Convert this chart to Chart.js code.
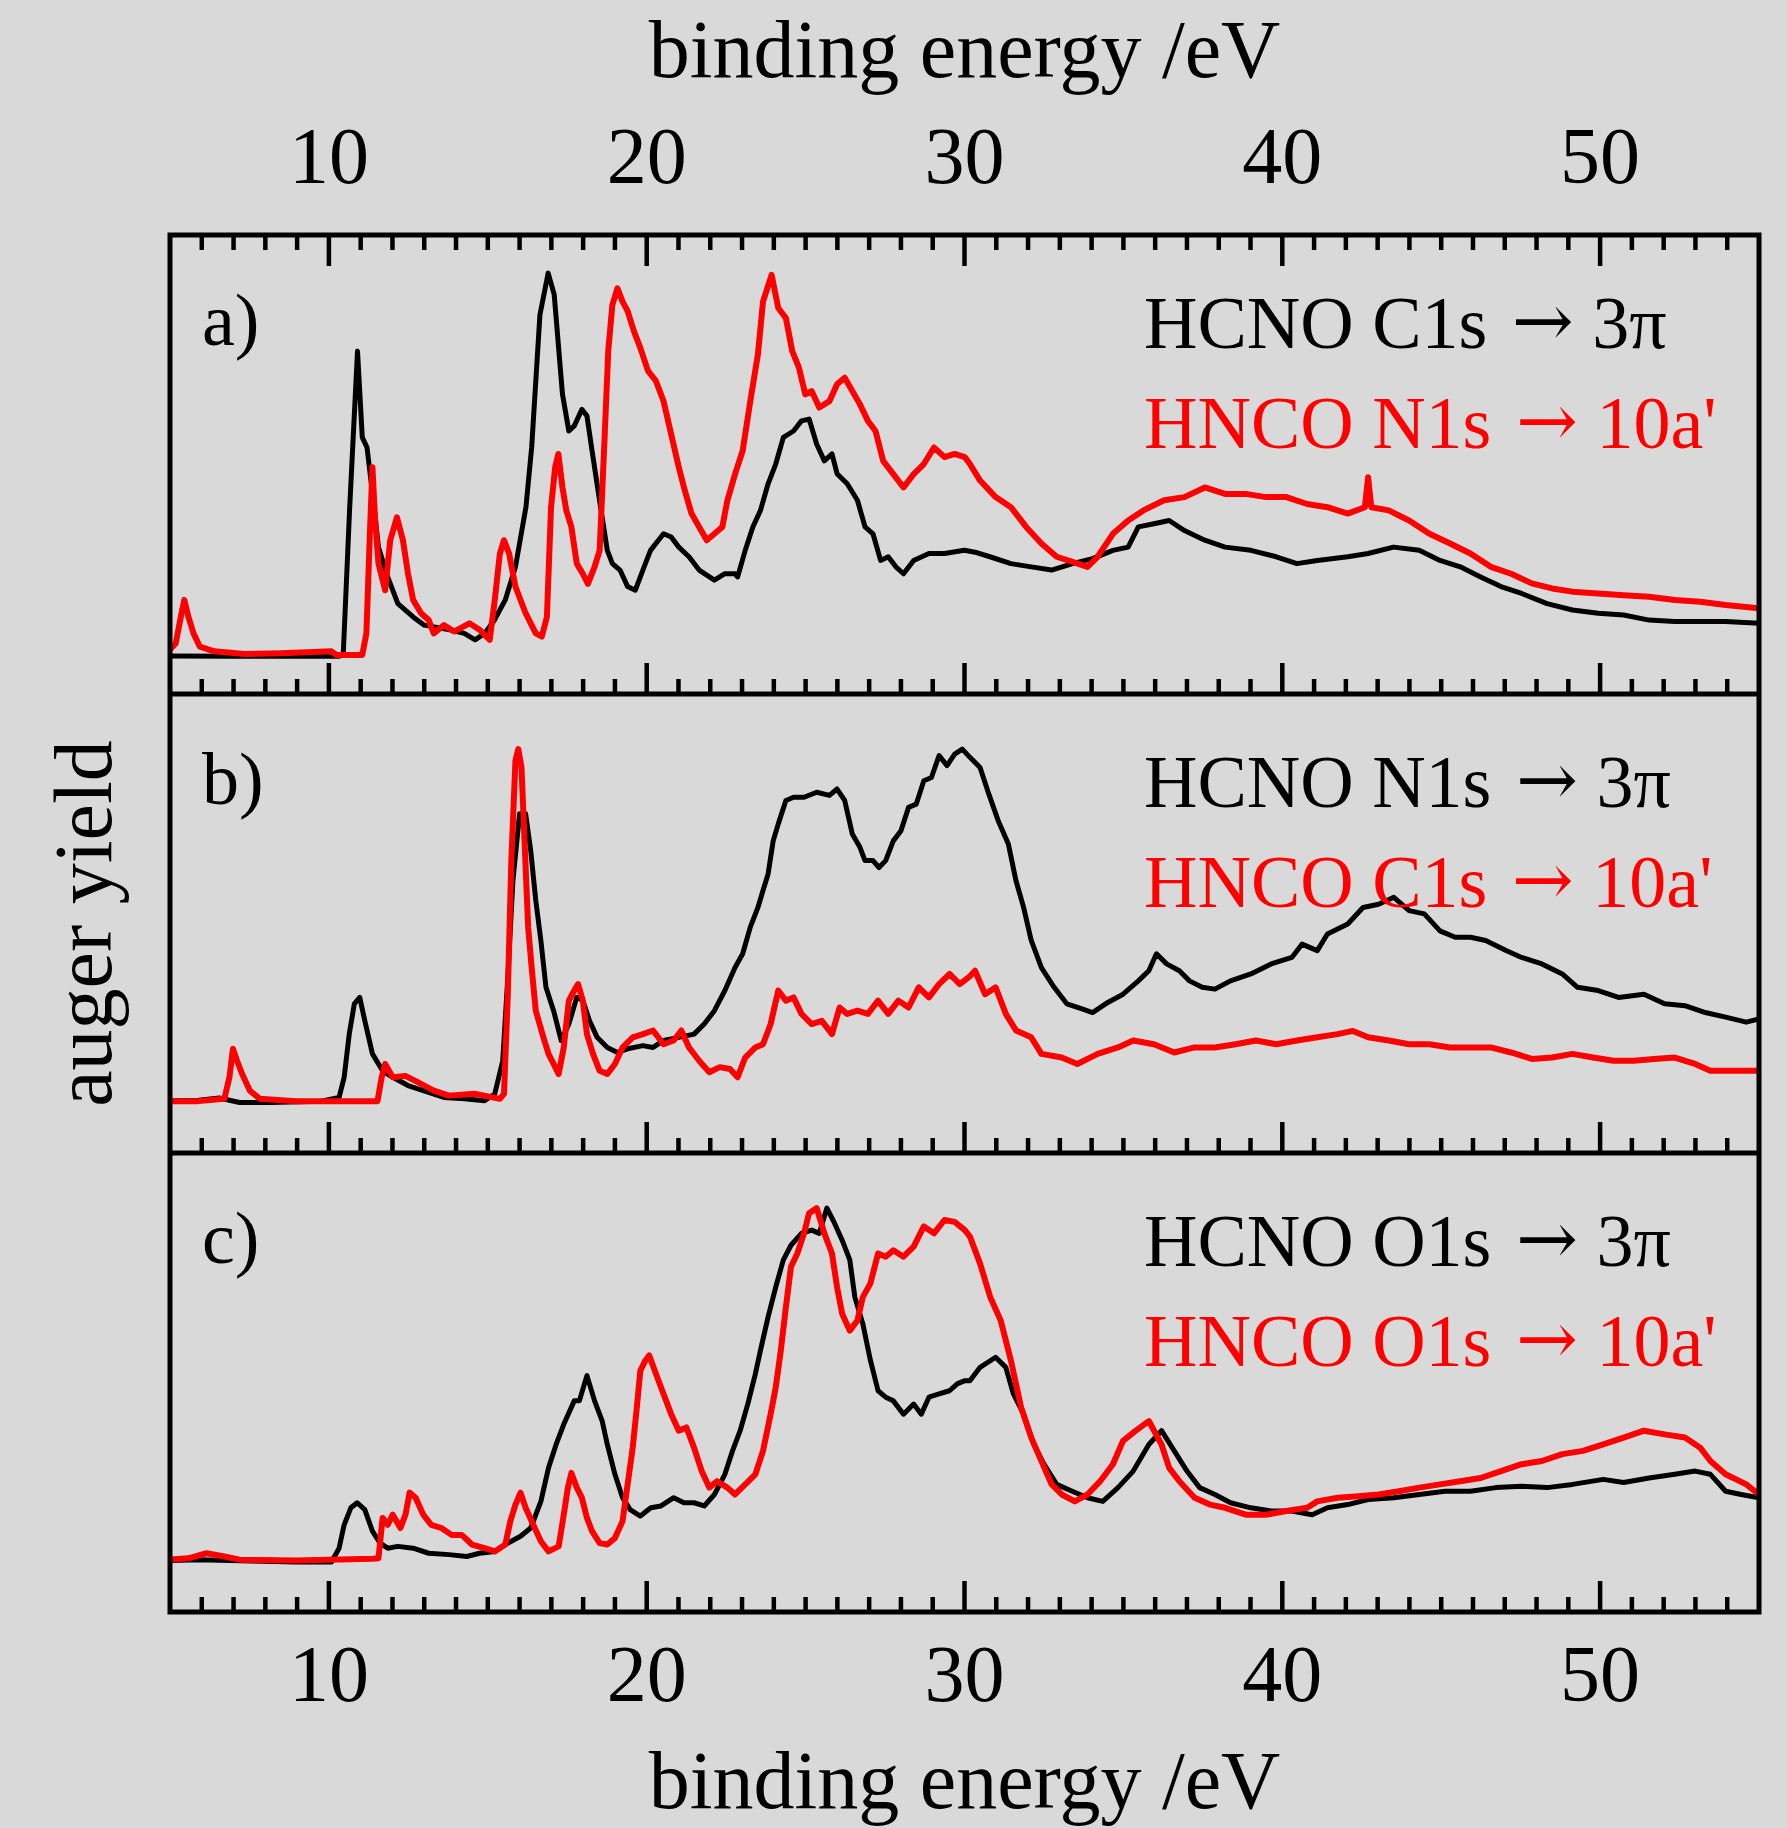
<!DOCTYPE html>
<html>
<head>
<meta charset="utf-8">
<script src="https://cdn.jsdelivr.net/npm/chart.js@4.4.1/dist/chart.umd.min.js"></script>
<style>
    html, body { margin: 0; padding: 0; background: #d9d9d9; }
    canvas { display: block; }
</style>
</head>
<body>
<canvas id="grafico" width="1787" height="1828"></canvas>
<script>
// binding energy (eV) / auger yield (arbitrary units, 0-100 inside each panel)
const xTickLabels = [10, 20, 30, 40, 50];
const panelLabels = ['a)', 'b)', 'c)'];
const blackLabels = ['HCNO C1s \u2192 3\u03c0', 'HCNO N1s \u2192 3\u03c0', 'HCNO O1s \u2192 3\u03c0'];
const redLabels = ['HNCO N1s \u2192 10a\'', 'HNCO C1s \u2192 10a\'', 'HNCO O1s \u2192 10a\''];

const aBlack = [[4.94,8.3],[7,8.2],[10.3,8.2],[10.45,8.5],[10.65,40],[10.9,74.7],[11.05,55.9],[11.2,53.7],[11.4,42],[11.56,32],[11.85,25.5],[12.17,19.7],[12.65,16.8],[13,15],[13.8,14],[14.26,13.2],[14.6,11.8],[14.9,13.2],[15.2,16],[15.55,20.5],[15.87,27.7],[16.2,40.7],[16.38,53.7],[16.64,82.6],[16.9,91.7],[17.09,87],[17.35,65.3],[17.55,57.3],[17.72,58.4],[17.96,62],[18.12,60.6],[18.28,53],[18.52,42],[18.76,31.3],[18.92,28.4],[19.16,27],[19.4,23.4],[19.64,22.6],[19.88,27],[20.12,31.3],[20.53,34.9],[20.77,34.2],[21.01,32],[21.33,29.9],[21.65,27],[22.13,24.8],[22.46,26.2],[22.78,26.2],[22.86,25.5],[23.1,31.3],[23.34,36.4],[23.58,40],[23.82,45.8],[24.06,50.1],[24.3,55.9],[24.62,57.3],[24.87,59.5],[25.11,59.9],[25.35,54.4],[25.59,50.8],[25.83,52.3],[25.99,48],[26.31,45.8],[26.63,42.2],[26.87,36.4],[27.12,34.9],[27.36,29.1],[27.6,29.9],[27.84,27.7],[28.08,26.2],[28.4,29.1],[28.88,30.6],[29.37,30.6],[30,31.3],[30.33,30.9],[30.8,29.9],[31.46,28.4],[32.1,27.7],[32.74,27],[33.4,28.4],[34.03,29.5],[34.67,31.3],[35.15,32],[35.47,36.4],[35.96,37.1],[36.44,37.8],[36.92,35.6],[37.56,33.5],[38.2,32],[39.01,31.3],[39.81,29.9],[40.46,28.4],[41.1,29.1],[42.06,29.9],[42.7,30.6],[43.5,32],[44.31,31.3],[44.96,29.1],[45.6,27.7],[46.24,25.5],[46.88,23.4],[47.53,21.9],[48.33,19.7],[49.13,18.3],[49.94,17.6],[50.74,17.2],[51.54,16.1],[52.35,15.8],[53.15,15.8],[53.95,15.8],[55,15.4]];

const aRed = [[4.94,9.3],[5.18,11],[5.34,16.8],[5.45,20.5],[5.58,16.8],[5.74,13.2],[5.94,10.3],[6.39,9.3],[7.35,8.7],[8.5,8.9],[10.08,9.3],[10.24,8.5],[11.05,8.5],[11.18,13.2],[11.29,35],[11.37,49.4],[11.45,38.5],[11.56,28.4],[11.77,22.6],[11.93,33.5],[12.14,38.5],[12.33,33.5],[12.49,26.2],[12.65,20.5],[12.9,17.6],[13.14,16.1],[13.3,13.2],[13.62,15],[13.94,13.6],[14.42,15.4],[14.74,14],[15.06,11.8],[15.22,20.5],[15.38,30.6],[15.51,33.5],[15.67,30.6],[15.87,23.4],[16.19,17.6],[16.51,13.2],[16.7,12.5],[16.86,16.8],[16.99,40.7],[17.12,49.4],[17.22,52.3],[17.35,45],[17.47,40],[17.63,36.4],[17.8,28.4],[17.99,26.2],[18.15,24],[18.36,27.7],[18.52,31.3],[18.68,56.6],[18.79,74.7],[18.92,84.8],[19.08,88.4],[19.24,85.5],[19.4,83.4],[19.6,79],[19.8,75.4],[20.04,70.4],[20.29,68.2],[20.53,63.8],[20.77,56.6],[21.01,49.4],[21.2,44.3],[21.41,39.3],[21.65,36.4],[21.89,33.5],[22.13,34.9],[22.38,36.4],[22.54,42.2],[22.78,47.9],[23.02,53],[23.26,63.8],[23.5,74],[23.66,85.5],[23.93,91.3],[24.14,84.1],[24.38,81.9],[24.58,74.7],[24.79,71.1],[24.99,65.3],[25.19,66],[25.43,62.4],[25.75,63.8],[25.99,67.5],[26.23,68.9],[26.47,66],[26.71,63.1],[26.96,59.5],[27.2,57.3],[27.44,50.8],[27.76,47.9],[28.08,45],[28.4,47.9],[28.72,50.1],[29.04,53.7],[29.37,51.6],[29.69,52.3],[30.01,51.6],[30.17,50.1],[30.49,46.5],[30.98,42.9],[31.46,40.7],[31.94,36.4],[32.42,32.8],[32.9,29.9],[33.4,28.8],[33.87,27.7],[34.19,29.9],[34.67,34.9],[35.15,37.8],[35.63,40],[36.28,42.2],[36.92,42.9],[37.56,45],[38.2,43.6],[38.85,43.6],[39.49,42.9],[40.13,42.9],[40.78,41.4],[41.42,40.7],[42.06,39.3],[42.6,40.7],[42.7,47.2],[42.8,40.7],[43.35,40],[43.99,37.8],[44.63,34.9],[45.28,32.8],[45.92,30.6],[46.56,27.7],[47.2,26.2],[47.85,24.1],[48.49,23],[49.13,22.3],[49.94,21.9],[50.74,21.5],[51.54,21.2],[52.35,20.5],[53.15,20.1],[53.95,19.4],[55,18.7]];

const bBlack = [[4.94,11.3],[5.9,11.5],[6.55,12],[6.87,11.5],[7.19,11],[8.15,11],[9.76,11.3],[10.32,12.1],[10.48,16.5],[10.64,25.9],[10.8,32.5],[10.97,33.9],[11.13,28.8],[11.37,21.6],[11.69,17.9],[12.01,16.5],[12.49,14.7],[12.97,13.6],[13.62,12.1],[14.26,11.8],[14.9,11.4],[15.22,12.9],[15.47,20.1],[15.63,38.3],[15.79,59.3],[16,73.9],[16.19,73.9],[16.35,65.9],[16.51,55],[16.67,46.3],[16.83,36.1],[17.07,31],[17.31,24.5],[17.55,28.1],[17.8,33.9],[17.99,33.2],[18.2,28.8],[18.44,25.2],[18.76,23],[19.08,21.9],[19.4,22.7],[19.88,23.4],[20.2,23],[20.53,24.5],[21.01,25.2],[21.49,25.9],[21.81,28.1],[22.13,31],[22.46,35.4],[22.78,40.4],[23.02,43.4],[23.26,49.2],[23.5,53.5],[23.66,57.2],[23.82,60.8],[23.98,68],[24.14,71.7],[24.38,76.8],[24.62,77.5],[24.95,77.5],[25.35,78.6],[25.75,77.9],[25.99,79.3],[26.23,76.8],[26.47,69.5],[26.71,66.6],[26.87,63.7],[27.12,63.7],[27.31,62.2],[27.52,63.7],[27.76,68],[28,70.2],[28.24,75.3],[28.48,76],[28.72,81.1],[28.96,81.8],[29.2,86.6],[29.45,84.4],[29.69,86.9],[29.93,88],[30.17,86.2],[30.49,84],[30.73,78.9],[31.06,72.4],[31.38,67.3],[31.62,59.3],[31.86,53.5],[32.1,46.3],[32.42,40.4],[32.82,36.1],[33.22,32.5],[33.7,31.4],[34.03,30.6],[34.51,32.8],[34.99,34.6],[35.47,37.5],[35.8,39.7],[36.04,43.4],[36.36,41.2],[36.76,39.7],[37.08,37.5],[37.48,36.1],[37.88,35.7],[38.37,37.5],[39.01,39],[39.65,41.2],[40.3,42.6],[40.62,45.5],[41.1,44.1],[41.42,47.7],[42.06,49.9],[42.54,53.5],[43.03,54.2],[43.51,55.7],[43.99,52.8],[44.47,52.1],[44.96,48.4],[45.44,47],[45.92,47],[46.4,46.3],[47.04,44.1],[47.53,42.6],[48.17,41.2],[48.81,39],[49.29,36.1],[49.94,35.4],[50.58,33.9],[51.38,34.6],[52.03,32.5],[52.67,32.1],[53.31,30.6],[53.95,29.6],[54.6,28.5],[55,29.2]];

const bRed = [[4.94,11.3],[5.9,11.3],[6.71,11.8],[6.87,16.5],[6.98,22.7],[7.11,20.1],[7.27,17.2],[7.51,13.6],[7.83,11.8],[8.96,11.3],[11.53,11.3],[11.66,16.5],[11.77,19.4],[12.01,16.5],[12.41,16.8],[12.81,15.4],[13.3,13.6],[13.78,12.5],[14.58,12.9],[15.38,11.8],[15.51,12.9],[15.63,34.6],[15.74,63.7],[15.87,85.5],[15.96,88],[16.06,84],[16.16,67.3],[16.27,49.2],[16.38,40.4],[16.51,31],[16.75,25.2],[16.91,21.6],[17.07,19.4],[17.23,17.2],[17.39,23],[17.55,33.2],[17.72,35.4],[17.84,36.8],[17.99,33.2],[18.12,25.9],[18.31,21.6],[18.52,17.9],[18.76,17.2],[19,19.4],[19.24,23],[19.56,25.2],[19.88,25.9],[20.2,26.7],[20.53,23.7],[20.85,24.5],[21.09,26.7],[21.33,23],[21.65,20.1],[21.97,17.6],[22.3,18.7],[22.62,18.3],[22.86,16.5],[23.1,20.8],[23.42,23],[23.66,23.7],[23.9,28.1],[24.14,35.4],[24.38,33.2],[24.62,33.9],[24.87,30.3],[25.19,28.1],[25.51,28.8],[25.83,25.9],[26.07,31.7],[26.31,30.3],[26.63,31],[26.96,30.3],[27.28,33.2],[27.6,30.3],[27.92,33.2],[28.24,31.7],[28.56,36.1],[28.88,33.9],[29.2,36.8],[29.53,39],[29.85,36.8],[30.14,38.3],[30.33,39.7],[30.65,34.6],[30.98,36.1],[31.3,30.3],[31.62,26.7],[32.1,25.2],[32.42,21.6],[33.06,20.8],[33.55,19.4],[34.19,21.6],[34.83,23],[35.31,24.5],[35.96,23.7],[36.6,21.9],[37.24,23],[37.88,23],[38.53,23.7],[39.17,24.5],[39.81,23.7],[40.46,24.5],[41.1,25.2],[41.74,25.9],[42.22,26.6],[42.7,25.2],[43.35,24.5],[43.99,23.7],[44.63,23.7],[45.28,23],[45.92,23],[46.56,23],[47.2,21.9],[47.85,20.5],[48.49,20.8],[49.13,21.6],[49.78,20.8],[50.42,20.1],[51.06,20.1],[51.7,20.5],[52.35,20.8],[52.99,19.4],[53.47,17.9],[53.95,17.9],[54.6,17.9],[55,17.9]];

const cBlack = [[4.94,11.2],[5.9,11.4],[6.87,11.2],[8.96,10.9],[10.08,10.9],[10.32,13.9],[10.48,19],[10.69,22.7],[10.89,23.8],[11.13,22.3],[11.37,17.6],[11.61,15],[11.85,13.9],[12.17,14.3],[12.65,13.9],[13.14,12.8],[13.78,12.5],[14.34,12.1],[14.74,12.8],[15.22,13.2],[15.55,14.7],[16.03,16.5],[16.35,18.3],[16.67,24.1],[16.91,31.4],[17.15,36.5],[17.39,40.9],[17.72,46],[17.88,46],[18.12,51.5],[18.36,46],[18.6,41.6],[18.76,36.5],[19,30],[19.24,24.9],[19.48,22.3],[19.8,20.9],[20.13,22.7],[20.45,23.1],[20.85,24.9],[21.17,23.8],[21.49,23.8],[21.81,23.1],[22.13,25.6],[22.46,30],[22.7,35.1],[22.94,39.5],[23.18,45.3],[23.42,51.9],[23.58,57],[23.82,64.3],[24.06,70.8],[24.3,76.7],[24.54,79.9],[24.87,82.5],[25.19,83.2],[25.43,82.5],[25.67,88],[25.91,84.7],[26.15,81],[26.39,76.7],[26.55,68.6],[26.8,62.8],[27.04,54.8],[27.28,48.2],[27.52,46.8],[27.76,46],[28.08,43.1],[28.4,45.3],[28.64,43.1],[28.88,46.8],[29.2,47.5],[29.53,48.2],[29.77,49.7],[30.01,50.4],[30.17,50.4],[30.49,53.3],[30.98,55.5],[31.3,53.3],[31.54,47.5],[31.86,43.1],[32.18,36.5],[32.5,32.2],[32.9,27.8],[33.39,26.3],[33.87,24.9],[34.35,24.1],[34.83,27.1],[35.31,30.7],[35.8,36.5],[36.2,39.5],[36.6,35.1],[37,30.7],[37.4,27.1],[37.88,25.6],[38.37,23.8],[39.01,22.7],[39.65,22],[40.3,22],[40.94,21.2],[41.42,22.7],[42.06,23.4],[42.7,24.5],[43.51,24.9],[44.31,25.6],[45.12,26.3],[45.92,26.3],[46.72,27.1],[47.53,27.4],[48.33,27.1],[49.13,27.8],[50.1,28.9],[50.74,28.2],[51.54,29.2],[52.35,30],[52.99,30.7],[53.47,30],[53.95,26.3],[54.44,25.6],[55,24.9]];

const cRed = [[4.94,11.4],[5.58,11.7],[6.15,12.8],[6.71,12.1],[7.19,11.4],[8.96,11.2],[11.37,11.6],[11.56,11.7],[11.69,20.5],[11.85,19],[12.01,21.2],[12.25,18.3],[12.41,21.2],[12.54,26],[12.73,24.9],[12.97,21.2],[13.22,19],[13.54,18.3],[13.86,16.8],[14.18,16.8],[14.5,14.7],[14.9,13.9],[15.22,13.2],[15.55,14.7],[15.71,19.8],[15.87,23.4],[16.03,26],[16.19,22.7],[16.43,19],[16.67,15.4],[16.91,13.2],[17.23,14.3],[17.39,21.2],[17.52,27.1],[17.63,30.3],[17.8,27.1],[17.96,24.9],[18.12,20.5],[18.28,17.6],[18.52,15],[18.76,14.7],[19,16.1],[19.24,19.8],[19.4,27.8],[19.56,35.8],[19.69,44.6],[19.8,52.6],[19.96,54.8],[20.08,55.9],[20.29,51.9],[20.53,47.5],[20.77,43.1],[21.01,39.5],[21.25,40.2],[21.49,35.8],[21.73,30.7],[21.97,27.1],[22.21,28.5],[22.54,27.1],[22.78,25.6],[23.1,27.8],[23.42,30],[23.66,35.1],[23.9,43.1],[24.06,48.9],[24.22,57],[24.38,66.4],[24.54,75.2],[24.74,78.1],[24.95,82.5],[25.11,86.9],[25.35,88],[25.59,82.5],[25.83,78.1],[25.99,70.8],[26.15,65],[26.39,61.3],[26.63,63.5],[26.8,68.6],[27.04,71.6],[27.28,78.1],[27.52,77.4],[27.76,78.8],[28.08,77.4],[28.4,79.6],[28.72,84],[29.04,82.5],[29.37,85.4],[29.69,85],[30.01,83.2],[30.17,81.8],[30.49,75.9],[30.81,68.6],[31.14,63.5],[31.46,54.8],[31.78,44.6],[32.1,38],[32.42,32.9],[32.74,27.8],[33.06,25.6],[33.47,24.1],[33.87,25.6],[34.27,28.5],[34.67,32.2],[34.99,37.3],[35.39,39.5],[35.8,41.6],[36.2,36.5],[36.44,31.4],[36.76,28.5],[37.24,24.9],[37.72,23.4],[38.2,22.7],[38.85,21.2],[39.49,21.2],[40.13,22],[40.78,22.7],[41.1,24.1],[41.74,24.9],[42.38,25.2],[43.03,25.6],[43.67,26.3],[44.31,27.1],[44.96,27.8],[45.6,28.5],[46.24,29.2],[46.88,30.7],[47.53,32.2],[48.17,32.9],[48.81,34.4],[49.46,35.1],[50.1,36.5],[50.74,38],[51.38,39.5],[52.03,38.7],[52.67,38],[53.15,35.8],[53.47,32.9],[53.95,30],[54.6,27.8],[55,25.6]];

const panelBlack = [aBlack, bBlack, cBlack];
const panelRed = [aRed, bRed, cRed];

const serif = '"Liberation Serif", "Times New Roman", serif';

// each panel gets a 100 unit band of one shared y scale, top panel highest
function toPoints(lista, painel) {
    const deslocamento = (2 - painel) * 100;
    return lista.map((par) => ({ x: par[0], y: par[1] + deslocamento }));
}

// the arrow from Liberation Serif is tiny, so it is drawn with DejaVu Serif
function escreverLegenda(ctx, texto, x, y) {
    const partes = texto.split('\u2192');
    ctx.font = '74px ' + serif;
    ctx.fillText(partes[0], x, y);
    x += ctx.measureText(partes[0]).width + 6;
    ctx.font = '74px "DejaVu Serif"';
    ctx.fillText('\u2192', x, y - 2);
    x += ctx.measureText('\u2192').width;
    ctx.font = '74px ' + serif;
    ctx.fillText(partes[1], x, y);
}

const datasets = [];
for (let i = 0; i < 3; i++) {
    datasets.push({
        label: blackLabels[i],
        data: toPoints(panelBlack[i], i),
        borderColor: '#000000',
        borderWidth: 5,
        pointRadius: 0,
        tension: 0,
        borderJoinStyle: 'round',
        order: 2
    });
    datasets.push({
        label: redLabels[i],
        data: toPoints(panelRed[i], i),
        borderColor: '#ff0000',
        borderWidth: 6,
        pointRadius: 0,
        tension: 0,
        borderJoinStyle: 'round',
        order: 1
    });
}

const moldura = {
    id: 'moldura',
    afterDatasetsDraw(chart) {
        const ctx = chart.ctx;
        const area = chart.chartArea;
        const escalaX = chart.scales.x;
        const escalaY = chart.scales.y;

        ctx.save();
        ctx.strokeStyle = '#000000';
        ctx.fillStyle = '#000000';

        // ticks: top edge points down, every panel bottom points up
        ctx.lineWidth = 4.5;
        const linhas = [
            { valor: 300, sentido: 1 },
            { valor: 200, sentido: -1 },
            { valor: 100, sentido: -1 },
            { valor: 0, sentido: -1 }
        ];
        linhas.forEach((linha) => {
            const y = escalaY.getPixelForValue(linha.valor);
            for (let e = 6; e <= 54; e++) {
                const x = escalaX.getPixelForValue(e);
                const tamanho = e % 10 === 0 ? 31 : 15;
                ctx.beginPath();
                ctx.moveTo(x, y);
                ctx.lineTo(x, y + linha.sentido * tamanho);
                ctx.stroke();
            }
        });

        // frame and panel dividers
        ctx.lineWidth = 5;
        ctx.strokeRect(area.left, area.top, area.right - area.left, area.bottom - area.top);
        [100, 200].forEach((valor) => {
            const y = escalaY.getPixelForValue(valor);
            ctx.beginPath();
            ctx.moveTo(area.left, y);
            ctx.lineTo(area.right, y);
            ctx.stroke();
        });

        // tick labels top and bottom
        ctx.font = '80px ' + serif;
        ctx.textAlign = 'center';
        ctx.textBaseline = 'alphabetic';
        xTickLabels.forEach((valor) => {
            const x = escalaX.getPixelForValue(valor);
            ctx.fillText(String(valor), x, area.top - 52);
            ctx.fillText(String(valor), x, area.bottom + 89);
        });

        // axis titles
        const centroX = (area.left + area.right) / 2;
        ctx.font = '82px ' + serif;
        ctx.fillText('binding energy /eV', centroX, area.top - 158);
        ctx.fillText('binding energy /eV', centroX, area.bottom + 196);

        ctx.save();
        ctx.translate(111, (area.top + area.bottom) / 2);
        ctx.rotate(-Math.PI / 2);
        ctx.fillText('auger yield', 0, 0);
        ctx.restore();

        // panel labels and legends
        ctx.textAlign = 'left';
        for (let i = 0; i < 3; i++) {
            const topo = escalaY.getPixelForValue(300 - i * 100);
            ctx.font = '74px ' + serif;
            ctx.fillStyle = '#000000';
            ctx.fillText(panelLabels[i], area.left + 32, topo + 110);
            escreverLegenda(ctx, blackLabels[i], area.left + 974, topo + 113);
            ctx.fillStyle = '#ff0000';
            escreverLegenda(ctx, redLabels[i], area.left + 974, topo + 213);
        }

        ctx.restore();
    }
};

const contexto = document.getElementById('grafico').getContext('2d');

new Chart(contexto, {
    type: 'line',
    data: { datasets: datasets },
    options: {
        responsive: false,
        animation: false,
        events: [],
        layout: {
            padding: { left: 170, right: 28, top: 235, bottom: 216 }
        },
        scales: {
            x: {
                type: 'linear',
                min: 5,
                max: 55,
                display: false
            },
            y: {
                type: 'linear',
                min: 0,
                max: 300,
                display: false
            }
        },
        plugins: {
            legend: { display: false },
            tooltip: { enabled: false }
        }
    },
    plugins: [moldura]
});
</script>
</body>
</html>
